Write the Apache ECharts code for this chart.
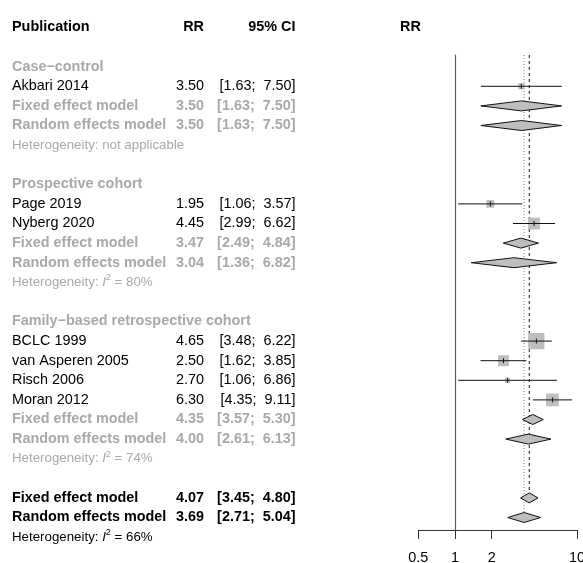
<!DOCTYPE html>
<html>
<head>
<meta charset="utf-8">
<script src="https://cdn.jsdelivr.net/npm/echarts@6/dist/echarts.min.js"></script>
<style>
  html, body { margin: 0; padding: 0; background: #ffffff; }
  #chart { width: 583px; height: 563px; }
</style>
</head>
<body>
<div id="chart"></div>
<script>
// ---- Meta-analysis data: relative risks with 95% confidence limits ----
const groupNames = ['Case\u2212control', 'Prospective cohort', 'Family\u2212based retrospective cohort'];

const studyNames = ['Akbari 2014', 'Page 2019', 'Nyberg 2020', 'BCLC 1999', 'van Asperen 2005', 'Risch 2006', 'Moran 2012'];
const studyGroup = [0, 1, 1, 2, 2, 2, 2];
const studyRR    = [3.50, 1.95, 4.45, 4.65, 2.50, 2.70, 6.30];
const studyLower = [1.63, 1.06, 2.99, 3.48, 1.62, 1.06, 4.35];
const studyUpper = [7.50, 3.57, 6.62, 6.22, 3.85, 6.86, 9.11];

const groupFixedRR    = [3.50, 3.47, 4.35];
const groupFixedLower = [1.63, 2.49, 3.57];
const groupFixedUpper = [7.50, 4.84, 5.30];
const groupRandomRR    = [3.50, 3.04, 4.00];
const groupRandomLower = [1.63, 1.36, 2.61];
const groupRandomUpper = [7.50, 6.82, 6.13];
const groupI2 = [null, 80, 74];

const overallFixed  = [4.07, 3.45, 4.80];   // estimate, lower, upper
const overallRandom = [3.69, 2.71, 5.04];
const overallI2 = 66;

const axisTickValues = [0.5, 1, 2, 10];

// ---- Layout ----
const W = 583, H = 563;
const ROW0 = 66.7, ROWH = 19.6;           // pixel centre of the first row, row pitch
const PLOT_TOP = 55, PLOT_BOTTOM = 530;   // vertical extent of the forest panel
const PLOT_LEFT = 418.3, PLOT_RIGHT = 576.9;
const COL_NAME = 12, COL_RR = 204, COL_CI = 295.5, COL_PLOT_HEAD = 400;
const FONT = '"Liberation Sans", Arial, Helvetica, sans-serif';
const FS = 14.4, FS_HET = 13.3;
const GRAY_TEXT = '#a9a9a9';
const BOX_FILL = '#bebebe';
const DIAMOND_HALF = 5;
const BOX_SCALE = 2.4;

const pxToRow = px => (px - ROW0) / ROWH;
const lg = v => Math.log10(v);
const fmt = v => v.toFixed(2);
const ciText = (lo, hi) => '[' + fmt(lo) + ';  ' + fmt(hi) + ']';

// ---- Assemble table rows, study marks and summary diamonds ----
const cells = [];      // text cells of the table
const studyMarks = []; // [log est, log lo, log hi, row, weight]
const diamonds = [];   // [log est, log lo, log hi, row]

function addCell(x, row, text, align, opts) {
  cells.push(Object.assign({ x, row, text, align, bold: false, color: '#000', size: FS }, opts || {}));
}
function addEstimateRow(row, name, est, lo, hi, opts) {
  addCell(COL_NAME, row, name, 'left', opts);
  addCell(COL_RR, row, fmt(est), 'right', opts);
  addCell(COL_CI, row, ciText(lo, hi), 'right', opts);
}
function hetText(i2) {
  return i2 === null ? '{h|Heterogeneity: not applicable}'
                     : '{h|Heterogeneity: }{i|I}{s|2}{h| = ' + i2 + '%}';
}

// header
addCell(COL_NAME, -2, 'Publication', 'left', { bold: true });
addCell(COL_RR, -2, 'RR', 'right', { bold: true });
addCell(COL_CI, -2, '95% CI', 'right', { bold: true });
addCell(COL_PLOT_HEAD, -2, 'RR', 'left', { bold: true });

let row = 0;
groupNames.forEach((g, gi) => {
  addCell(COL_NAME, row++, g, 'left', { bold: true, color: GRAY_TEXT });
  studyNames.forEach((s, i) => {
    if (studyGroup[i] !== gi) return;
    addEstimateRow(row, s, studyRR[i], studyLower[i], studyUpper[i]);
    const se = (Math.log(studyUpper[i]) - Math.log(studyLower[i])) / (2 * 1.959964);
    studyMarks.push([lg(studyRR[i]), lg(studyLower[i]), lg(studyUpper[i]), row, 1 / (se * se)]);
    row++;
  });
  const sub = { bold: true, color: GRAY_TEXT };
  addEstimateRow(row, 'Fixed effect model', groupFixedRR[gi], groupFixedLower[gi], groupFixedUpper[gi], sub);
  diamonds.push([lg(groupFixedRR[gi]), lg(groupFixedLower[gi]), lg(groupFixedUpper[gi]), row]);
  row++;
  addEstimateRow(row, 'Random effects model', groupRandomRR[gi], groupRandomLower[gi], groupRandomUpper[gi], sub);
  diamonds.push([lg(groupRandomRR[gi]), lg(groupRandomLower[gi]), lg(groupRandomUpper[gi]), row]);
  row++;
  addCell(COL_NAME, row++, hetText(groupI2[gi]), 'left', { color: GRAY_TEXT, size: FS_HET, rich: true });
  row++;
});

const fixedRow = row;
addEstimateRow(row, 'Fixed effect model', overallFixed[0], overallFixed[1], overallFixed[2], { bold: true });
diamonds.push([lg(overallFixed[0]), lg(overallFixed[1]), lg(overallFixed[2]), row]);
row++;
const randomRow = row;
addEstimateRow(row, 'Random effects model', overallRandom[0], overallRandom[1], overallRandom[2], { bold: true });
diamonds.push([lg(overallRandom[0]), lg(overallRandom[1]), lg(overallRandom[2]), row]);
row++;
addCell(COL_NAME, row++, hetText(overallI2), 'left', { size: FS_HET, rich: true });

// reference lines of the pooled estimates, ending on their diamonds
const refLines = [
  { value: [lg(overallFixed[0]), fixedRow], dash: [3, 3], color: '#2a2a2a' },
  { value: [lg(overallRandom[0]), randomRow], dash: [1, 2], color: '#888888' }
];

// ---- Renderers ----
const plotMinRow = pxToRow(PLOT_TOP);
const plotMaxRow = pxToRow(PLOT_BOTTOM);

function renderText(params, api) {
  const c = cells[params.dataIndex];
  const p = api.coord([api.value(0), api.value(1)]);
  const style = {
    text: c.text, align: c.align, verticalAlign: 'middle',
    fontFamily: FONT, fontSize: c.size, fontWeight: c.bold ? 'bold' : 'normal', fill: c.color
  };
  if (c.rich) {
    style.rich = {
      h: { fontFamily: FONT, fontSize: c.size, color: c.color, lineHeight: 18 },
      i: { fontFamily: FONT, fontSize: c.size, color: c.color, fontStyle: 'italic', lineHeight: 18 },
      s: { fontFamily: FONT, fontSize: 9, color: c.color, lineHeight: 10, verticalAlign: 'top' }
    };
  }
  return { type: 'text', x: p[0], y: p[1], style };
}

function renderRefLine(params, api) {
  const r = refLines[params.dataIndex];
  const x = api.value(0), endRow = api.value(1);
  const top = api.coord([x, plotMinRow]);
  const end = api.coord([x, endRow]);
  return {
    type: 'line',
    shape: { x1: top[0], y1: top[1], x2: end[0], y2: end[1] - DIAMOND_HALF },
    style: { stroke: r.color, lineWidth: 1.1, lineDash: r.dash }
  };
}

function renderStudy(params, api) {
  const est = api.value(0), lo = api.value(1), hi = api.value(2), r = api.value(3), w = api.value(4);
  const c = api.coord([est, r]), a = api.coord([lo, r]), b = api.coord([hi, r]);
  const s = BOX_SCALE * Math.sqrt(w);
  return {
    type: 'group',
    children: [
      { type: 'rect', shape: { x: c[0] - s / 2, y: c[1] - s / 2, width: s, height: s }, style: { fill: BOX_FILL } },
      { type: 'line', shape: { x1: a[0], y1: a[1], x2: b[0], y2: b[1] }, style: { stroke: '#111', lineWidth: 1 } },
      { type: 'line', shape: { x1: c[0], y1: c[1] - 2.5, x2: c[0], y2: c[1] + 2.5 }, style: { stroke: '#111', lineWidth: 1 } }
    ]
  };
}

function renderDiamond(params, api) {
  const est = api.value(0), lo = api.value(1), hi = api.value(2), r = api.value(3);
  const c = api.coord([est, r]), a = api.coord([lo, r]), b = api.coord([hi, r]);
  return {
    type: 'polygon',
    shape: { points: [[a[0], a[1]], [c[0], c[1] - DIAMOND_HALF], [b[0], b[1]], [c[0], c[1] + DIAMOND_HALF]] },
    style: { fill: BOX_FILL, stroke: '#111', lineWidth: 1 }
  };
}

// ---- Chart ----
const chart = echarts.init(document.getElementById('chart'), null, { renderer: 'canvas' });
const hiddenAxis = {
  axisLine: { show: false }, axisTick: { show: false }, axisLabel: { show: false }, splitLine: { show: false }
};

chart.setOption({
  animation: false,
  backgroundColor: '#ffffff',
  textStyle: { fontFamily: FONT },
  grid: [
    { left: 0, right: 0, top: 0, bottom: 0, containLabel: false, outerBoundsMode: 'none' },
    { left: PLOT_LEFT, right: W - PLOT_RIGHT, top: PLOT_TOP, bottom: H - PLOT_BOTTOM, containLabel: false, outerBoundsMode: 'none' }
  ],
  xAxis: [
    Object.assign({ gridIndex: 0, type: 'value', min: 0, max: W }, hiddenAxis),
    {
      gridIndex: 1, type: 'value',
      min: lg(axisTickValues[0]) - 1e-9, max: lg(axisTickValues[axisTickValues.length - 1]) + 1e-9,
      axisLine: { show: true, onZero: false, lineStyle: { color: '#333', width: 1 } },
      axisTick: { show: true, length: 9, customValues: axisTickValues.map(lg), lineStyle: { color: '#333', width: 1 } },
      axisLabel: {
        show: true, margin: 21, fontSize: FS, color: '#000', fontFamily: FONT,
        customValues: axisTickValues.map(lg),
        formatter: v => {
          const t = axisTickValues.find(t => Math.abs(lg(t) - v) < 1e-6);
          return t === undefined ? '' : String(t);
        }
      },
      splitLine: { show: false }
    }
  ],
  yAxis: [
    Object.assign({ gridIndex: 0, type: 'value', inverse: true, min: pxToRow(0), max: pxToRow(H) }, hiddenAxis),
    {
      gridIndex: 1, type: 'value', inverse: true, min: plotMinRow, max: plotMaxRow,
      axisLine: { show: true, onZero: true, lineStyle: { color: '#5e5e5e', width: 1.2 } },
      axisTick: { show: false }, axisLabel: { show: false }, splitLine: { show: false }
    }
  ],
  series: [
    {
      type: 'custom', name: 'table', xAxisIndex: 0, yAxisIndex: 0,
      data: cells.map(c => [c.x, c.row]), renderItem: renderText, silent: true
    },
    {
      type: 'custom', name: 'pooled lines', xAxisIndex: 1, yAxisIndex: 1,
      data: refLines.map(r => r.value), renderItem: renderRefLine, silent: true
    },
    {
      type: 'custom', name: 'summary', xAxisIndex: 1, yAxisIndex: 1,
      encode: { x: [0, 1, 2], y: 3 },
      data: diamonds, renderItem: renderDiamond, silent: true
    },
    {
      type: 'custom', name: 'studies', xAxisIndex: 1, yAxisIndex: 1,
      encode: { x: [0, 1, 2], y: 3 },
      data: studyMarks, renderItem: renderStudy, silent: true
    }
  ]
});
</script>
</body>
</html>
